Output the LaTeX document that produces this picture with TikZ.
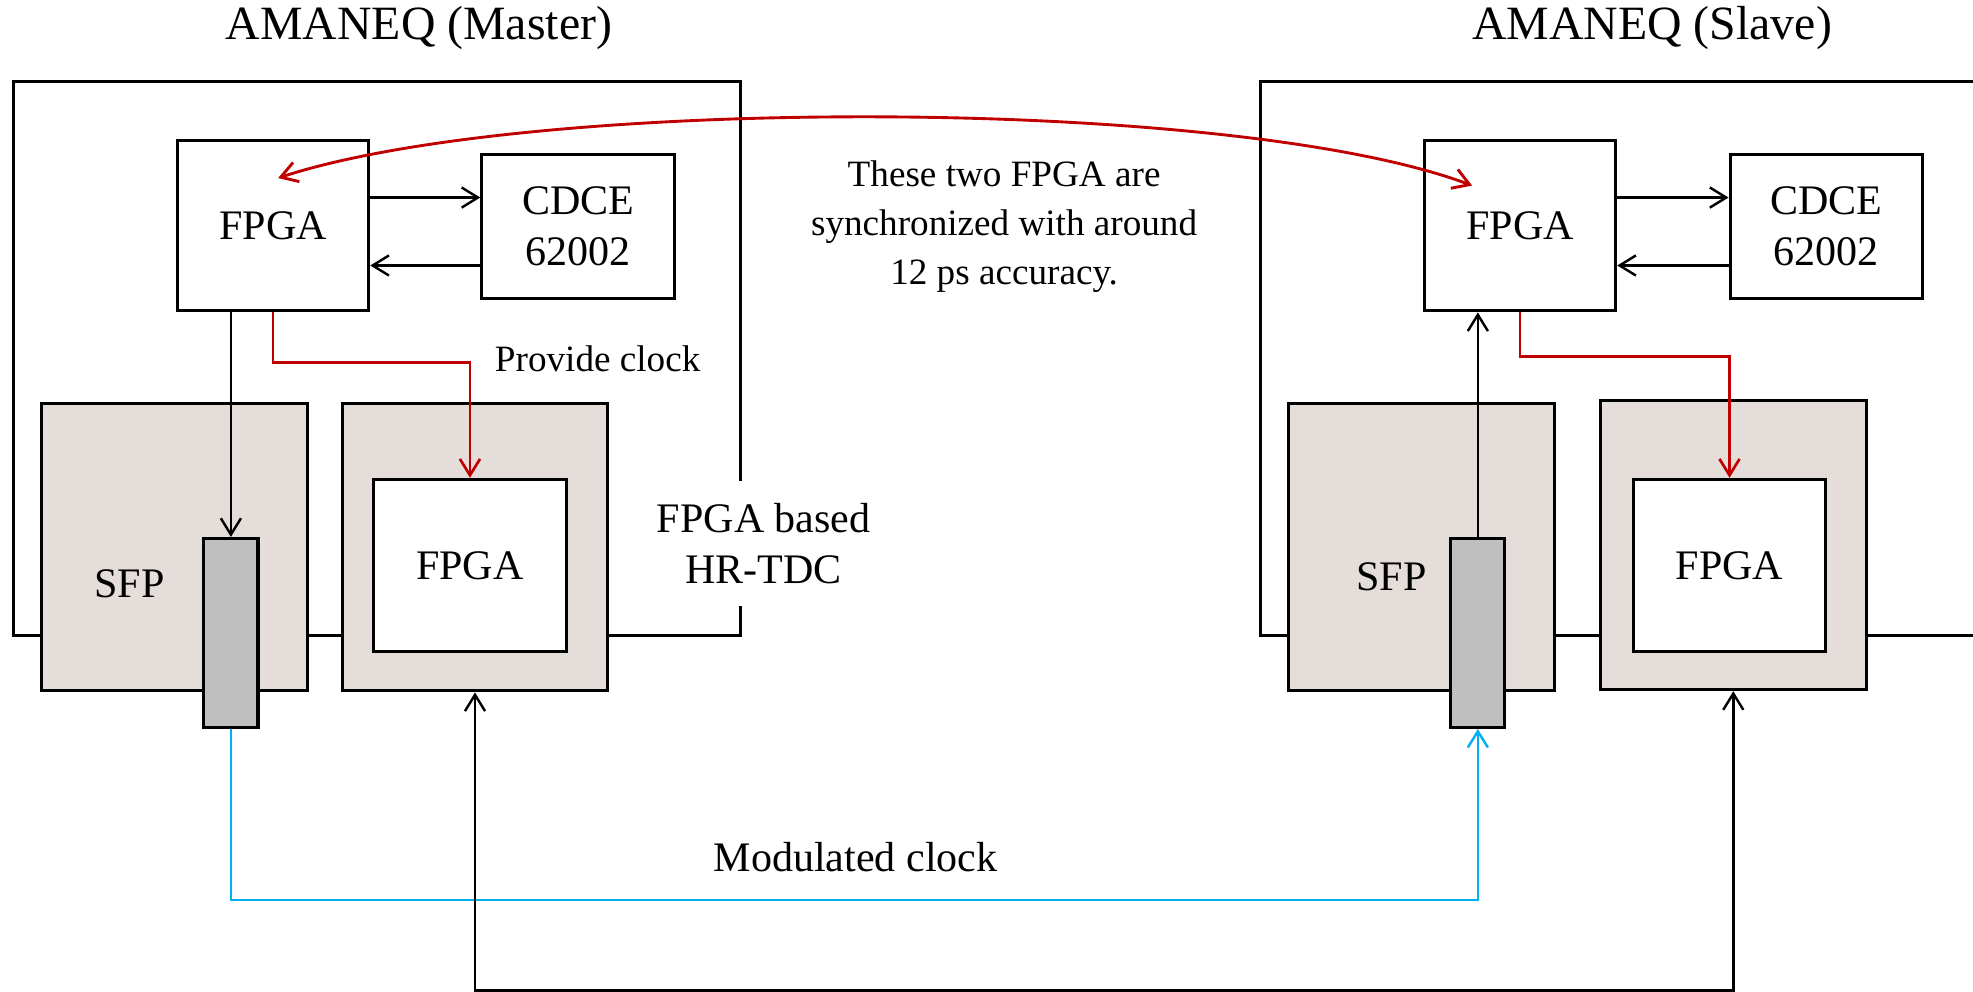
\documentclass[tikz,border=0pt]{standalone}
\usepackage{fontspec}
\setmainfont{Liberation Serif}
\usepackage{tikz}
\usetikzlibrary{positioning,arrows.meta,calc}
\definecolor{modfill}{HTML}{E4DDDA}
\definecolor{plugfill}{HTML}{BFBFBF}
\definecolor{clkred}{HTML}{C00000}
\definecolor{fibreblue}{HTML}{00B0F0}

\begin{document}
\begin{tikzpicture}[x=0.01cm, y=-0.01cm,
    board/.style={draw, line width=0.7pt, inner sep=0pt},
    chip/.style={draw, line width=0.7pt, fill=white, align=center, inner sep=0pt,
                 font=\fontsize{9.5}{11.4}\selectfont},
    module/.style={draw, line width=0.7pt, fill=modfill, inner sep=0pt,
                   minimum width=2.11cm, minimum height=2.28cm},
    plug/.style={draw, line width=0.7pt, fill=plugfill, inner sep=0pt,
                 minimum width=0.43cm, minimum height=1.5cm},
    txt/.style={inner sep=1pt, align=center, font=\fontsize{9.5}{11.4}\selectfont},
    note/.style={inner sep=1pt, align=center, font=\fontsize{8.4}{10.2}\selectfont},
    title/.style={inner sep=0pt, font=\fontsize{10.8}{13}\selectfont},
    link/.style={line width=0.55pt, -{Straight Barb[length=1.3mm, width=1.6mm]}},
    clk/.style={link, draw=clkred, line width=0.6pt},
    fibre/.style={link, draw=fibreblue, line width=0.55pt}]
  \useasboundingbox (0,0) rectangle (1568,788);

  % boards
  \node[board, minimum width=5.77cm, minimum height=4.40cm] (mboard) at (299.5,285) {};
  \node[board, minimum width=6.98cm, minimum height=4.40cm] (sboard) at (1351,285) {};
  \node[title] (mtitle) at (333,22) {AMANEQ (Master)};
  \node[title] (stitle) at (1313,22) {AMANEQ (Slave)};

  % master side
  \node[chip, minimum width=1.52cm, minimum height=1.35cm] (mfpga) at (217,179.5) {FPGA};
  \node[chip, minimum width=1.53cm, minimum height=1.14cm] (mcdce) at (459.5,180) {CDCE\\62002};
  \node[module] (msfp) at (138.5,435) {};
  \node[txt] at (103,464) {SFP};
  \node[plug] (mplug) at (183.5,503) {};
  \node[module] (mtdc) at (377.5,435) {};
  \node[chip, minimum width=1.53cm, minimum height=1.37cm] (mtdcfpga) at (373.5,449.5) {FPGA};
  \node[txt, fill=white, inner ysep=5pt] (tdclabel) at (607,432) {FPGA based\\HR-TDC};
  \node[note] (clklabel) at (475,285) {Provide clock};

  % slave side
  \node[chip, minimum width=1.52cm, minimum height=1.35cm] (sfpga) at (1208,179.5) {FPGA};
  \node[chip, minimum width=1.53cm, minimum height=1.14cm] (scdce) at (1451.5,180) {CDCE\\62002};
  \node[module] (ssfp) at (1129.5,435) {};
  \node[txt] at (1106,458) {SFP};
  \node[plug] (splug) at (1174.5,503) {};
  \node[module, minimum height=2.30cm] (stdc) at (1377.5,433) {};
  \node[chip, minimum width=1.53cm, minimum height=1.37cm] (stdcfpga) at (1374.5,449.5) {FPGA};

  \node[note, font=\fontsize{8.4}{11}\selectfont] (synclabel) at (798,180)
    {These two FPGA are\\synchronized with around\\12 ps accuracy.};
  \node[txt] (modlabel) at (680,681) {Modulated clock};

  % FPGA <-> CDCE
  \draw[link] (mfpga.east |- 0,157) -- (mcdce.west |- 0,157);
  \draw[link] (mcdce.west |- 0,211) -- (mfpga.east |- 0,211);
  \draw[link] (sfpga.east |- 0,157) -- (scdce.west |- 0,157);
  \draw[link] (scdce.west |- 0,211) -- (sfpga.east |- 0,211);

  % clock distribution
  \draw[link] (mfpga.south -| mplug) -- (mplug.north);
  \draw[link] (splug.north) -- (splug.north |- sfpga.south);
  \draw[clk] (mfpga.south) -- ++(0,40) -| (mtdcfpga.north);
  \draw[clk] (sfpga.south) -- ++(0,35) -| (stdcfpga.north);
  \draw[fibre] (mplug.south) -- ++(0,136) -| (splug.south);
  \draw[link, {Straight Barb[length=1.3mm, width=1.6mm]}-{Straight Barb[length=1.3mm, width=1.6mm]}]
    (mtdc.south) -- ++(0,237) -| (stdc.south);

  % synchronisation
  \coordinate (msync) at ($(mfpga.center)+(4,-38)$);
  \coordinate (ssync) at ($(sfpga.center)+(-38,-32)$);
  \draw[clkred, line width=0.65pt, {Straight Barb[length=1.3mm, width=1.6mm]}-{Straight Barb[length=1.3mm, width=1.6mm]}]
    (msync) .. controls (420,76) and (980,76) .. (ssync);
\end{tikzpicture}
\end{document}
